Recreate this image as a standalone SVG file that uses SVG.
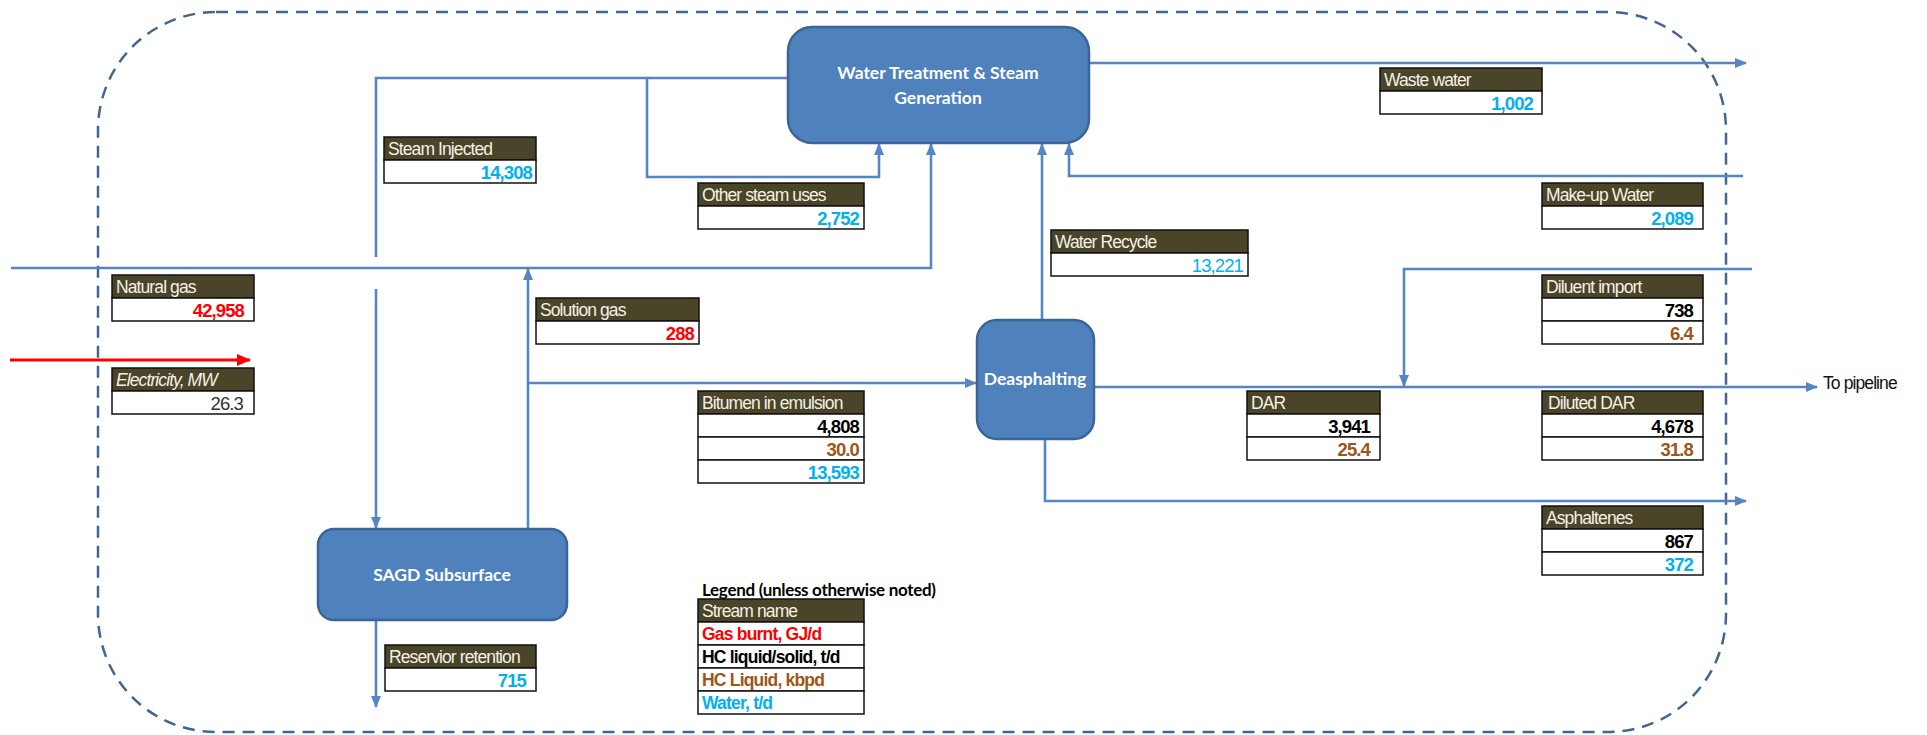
<svg xmlns="http://www.w3.org/2000/svg" width="1927" height="735" viewBox="0 0 1927 735">
<defs>
<style>
.ln{fill:none;stroke:#5585C3;stroke-width:2.6}
.node{fill:#4F81BD;stroke:#3B6596;stroke-width:2.5}
.nt{font-family:Lato,"Open Sans",sans-serif;font-weight:bold;font-size:17.5px;fill:#fff;text-anchor:middle}
.hd{fill:#4A4429;stroke:#111;stroke-width:1.5}
.rw{fill:#fff;stroke:#111;stroke-width:1.5}
.ht{font-family:"Liberation Sans",Arial,sans-serif;font-size:17.5px;fill:#F4F1E4;letter-spacing:-0.9px}
.v{font-family:"Liberation Sans",Arial,sans-serif;font-size:18.5px;font-weight:bold;text-anchor:end;letter-spacing:-0.9px}
.vn{font-weight:normal}
.lg{font-family:"Liberation Sans",Arial,sans-serif;font-size:17.5px;font-weight:bold;letter-spacing:-0.8px}
.red{fill:#FF0000}.blk{fill:#000}.brn{fill:#9E5518}.blu{fill:#00B0F0}.gry{fill:#333}
</style>
<marker id="ah" markerUnits="userSpaceOnUse" markerWidth="12" markerHeight="10" refX="11" refY="5" orient="auto">
<path d="M0,0 L12,5 L0,10 z" fill="#5585C3"/>
</marker>
<marker id="ahr" markerUnits="userSpaceOnUse" markerWidth="14" markerHeight="12" refX="13" refY="6" orient="auto">
<path d="M0,0 L14,6 L0,12 z" fill="#FF0000"/>
</marker>
</defs>
<rect width="1927" height="735" fill="#fff"/>
<rect id="boundary" x="98" y="12" width="1628" height="720" rx="118" ry="118" fill="none" stroke="#44658F" stroke-width="2.5" stroke-dasharray="12 8"/>

<g id="connectors">
<path class="ln" d="M788 78 H376 V257"/>
<path class="ln" d="M376 289 V528" marker-end="url(#ah)"/>
<path class="ln" d="M647 78 V177 H879 V144" marker-end="url(#ah)"/>
<path class="ln" d="M11 268 H931 V144" marker-end="url(#ah)"/>
<path class="ln" d="M528 529 V269" marker-end="url(#ah)"/>
<path class="ln" d="M528 383 H976" marker-end="url(#ah)"/>
<path class="ln" d="M1042 320 V144" marker-end="url(#ah)"/>
<path class="ln" d="M1743 176 H1069 V144" marker-end="url(#ah)"/>
<path class="ln" d="M1089 63 H1746" marker-end="url(#ah)"/>
<path class="ln" d="M1094 387 H1817" marker-end="url(#ah)"/>
<path class="ln" d="M1752 269 H1404 V386" marker-end="url(#ah)"/>
<path class="ln" d="M1045 439 V501 H1746" marker-end="url(#ah)"/>
<path class="ln" d="M376 620 V707" marker-end="url(#ah)"/>
<path d="M10 360 H250" fill="none" stroke="#FF0000" stroke-width="3" marker-end="url(#ahr)"/>
<text x="1823" y="389" font-family="'Liberation Sans',Arial,sans-serif" font-size="17.5" letter-spacing="-0.9" fill="#111">To pipeline</text>
</g>

<g id="wtsg">
<rect class="node" x="788" y="27" width="301" height="116" rx="24"/>
<text class="nt" x="938" y="79">Water  Treatment  &amp; Steam</text>
<text class="nt" x="938" y="104">Generation</text>
</g>
<g id="deasphalting">
<rect class="node" x="977" y="320" width="117" height="119" rx="20"/>
<text class="nt" x="1035" y="385">Deasphalting</text>
</g>
<g id="sagd">
<rect class="node" x="318" y="529" width="249" height="91" rx="16"/>
<text class="nt" x="442" y="581">SAGD Subsurface</text>
</g>

<g id="steam-injected">
<rect class="hd" x="384" y="137" width="152" height="23"/><rect class="rw" x="384" y="160" width="152" height="23"/>
<text class="ht" x="388" y="155">Steam Injected</text>
<text class="v blu" x="532" y="179">14,308</text>
</g>
<g id="other-steam">
<rect class="hd" x="698" y="183" width="166" height="23"/><rect class="rw" x="698" y="206" width="166" height="23"/>
<text class="ht" x="702" y="201">Other steam uses</text>
<text class="v blu" x="859" y="225">2,752</text>
</g>
<g id="natural-gas">
<rect class="hd" x="112" y="275" width="142" height="23"/><rect class="rw" x="112" y="298" width="142" height="23"/>
<text class="ht" x="116" y="293">Natural gas</text>
<text class="v red" x="244" y="317">42,958</text>
</g>
<g id="electricity">
<rect class="hd" x="112" y="368" width="142" height="23"/><rect class="rw" x="112" y="391" width="142" height="23"/>
<text class="ht" x="116" y="386" font-style="italic">Electricity, MW</text>
<text class="v vn gry" x="243" y="410">26.3</text>
</g>
<g id="solution-gas">
<rect class="hd" x="536" y="298" width="163" height="23"/><rect class="rw" x="536" y="321" width="163" height="23"/>
<text class="ht" x="540" y="316">Solution gas</text>
<text class="v red" x="694" y="340">288</text>
</g>
<g id="waste-water">
<rect class="hd" x="1380" y="68" width="162" height="23"/><rect class="rw" x="1380" y="91" width="162" height="23"/>
<text class="ht" x="1384" y="86">Waste water</text>
<text class="v blu" x="1533" y="110">1,002</text>
</g>
<g id="makeup-water">
<rect class="hd" x="1542" y="183" width="161" height="23"/><rect class="rw" x="1542" y="206" width="161" height="23"/>
<text class="ht" x="1546" y="201">Make-up Water</text>
<text class="v blu" x="1693" y="225">2,089</text>
</g>
<g id="water-recycle">
<rect class="hd" x="1051" y="230" width="197" height="23"/><rect class="rw" x="1051" y="253" width="197" height="23"/>
<text class="ht" x="1055" y="248">Water Recycle</text>
<text class="v vn blu" x="1243" y="272">13,221</text>
</g>
<g id="diluent-import">
<rect class="hd" x="1542" y="275" width="161" height="23"/><rect class="rw" x="1542" y="298" width="161" height="23"/><rect class="rw" x="1542" y="321" width="161" height="23"/>
<text class="ht" x="1546" y="293">Diluent import</text>
<text class="v blk" x="1693" y="317">738</text>
<text class="v brn" x="1693" y="340">6.4</text>
</g>
<g id="bitumen">
<rect class="hd" x="698" y="391" width="166" height="23"/><rect class="rw" x="698" y="414" width="166" height="23"/><rect class="rw" x="698" y="437" width="166" height="23"/><rect class="rw" x="698" y="460" width="166" height="23"/>
<text class="ht" x="702" y="409">Bitumen in emulsion</text>
<text class="v blk" x="859" y="433">4,808</text>
<text class="v brn" x="859" y="456">30.0</text>
<text class="v blu" x="859" y="479">13,593</text>
</g>
<g id="dar">
<rect class="hd" x="1247" y="391" width="133" height="23"/><rect class="rw" x="1247" y="414" width="133" height="23"/><rect class="rw" x="1247" y="437" width="133" height="23"/>
<text class="ht" x="1251" y="409">DAR</text>
<text class="v blk" x="1370" y="433">3,941</text>
<text class="v brn" x="1370" y="456">25.4</text>
</g>
<g id="diluted-dar">
<rect class="hd" x="1542" y="391" width="161" height="23"/><rect class="rw" x="1542" y="414" width="161" height="23"/><rect class="rw" x="1542" y="437" width="161" height="23"/>
<text class="ht" x="1548" y="409">Diluted DAR</text>
<text class="v blk" x="1693" y="433">4,678</text>
<text class="v brn" x="1693" y="456">31.8</text>
</g>
<g id="asphaltenes">
<rect class="hd" x="1542" y="506" width="161" height="23"/><rect class="rw" x="1542" y="529" width="161" height="23"/><rect class="rw" x="1542" y="552" width="161" height="23"/>
<text class="ht" x="1546" y="524">Asphaltenes</text>
<text class="v blk" x="1693" y="548">867</text>
<text class="v blu" x="1693" y="571">372</text>
</g>
<g id="reservoir-retention">
<rect class="hd" x="385" y="645" width="151" height="23"/><rect class="rw" x="385" y="668" width="151" height="23"/>
<text class="ht" x="389" y="663">Reservior retention</text>
<text class="v blu" x="526" y="687">715</text>
</g>
<g id="legend">
<text x="702" y="596" font-family="Lato,'Open Sans',sans-serif" font-weight="bold" font-size="17" letter-spacing="-0.3" fill="#000">Legend (unless otherwise noted)</text>
<rect class="hd" x="698" y="599" width="166" height="23"/>
<rect class="rw" x="698" y="622" width="166" height="23"/><rect class="rw" x="698" y="645" width="166" height="23"/><rect class="rw" x="698" y="668" width="166" height="23"/><rect class="rw" x="698" y="691" width="166" height="23"/>
<text class="ht" x="702" y="617">Stream name</text>
<text class="lg red" x="702" y="640">Gas burnt, GJ/d</text>
<text class="lg blk" x="702" y="663">HC liquid/solid, t/d</text>
<text class="lg brn" x="702" y="686">HC Liquid, kbpd</text>
<text class="lg blu" x="702" y="709">Water, t/d</text>
</g>
</svg>
